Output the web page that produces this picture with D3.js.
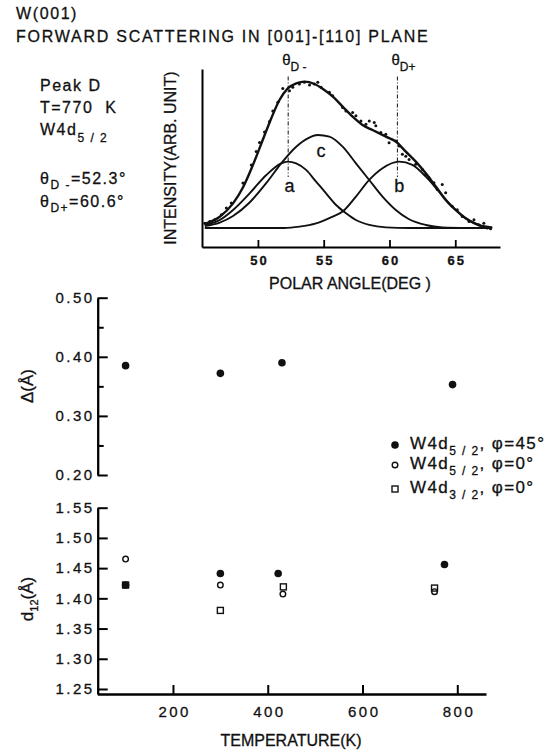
<!DOCTYPE html>
<html>
<head>
<meta charset="utf-8">
<title>W(001) forward scattering</title>
<style>
  body, html { margin: 0; padding: 0; background: #fff; }
  svg { display: block; font-family: "Liberation Sans", Arial, sans-serif; }
  text { fill: #111; stroke: #111; stroke-width: 0.3px; }
</style>
</head>
<body>
<svg id="svg" width="552" height="750"></svg>
<script src="https://d3js.org/d3.v7.min.js"></script>
<script>
  // ---- inset: polar scan, peak D, T=770 K, W4d5/2 ----
  const thetaMinus = 52.3
  const thetaPlus = 60.6
  const angleTicks = [50, 55, 60, 65]

  // measured points (angle, intensity arb.)
  const scanAngle = [45.96, 46.34, 46.71, 47.22, 47.60, 47.98, 48.86, 49.50, 49.87, 50.12, 50.50, 50.88, 51.13, 51.51, 51.89,
    52.40, 52.65, 53.15, 53.53, 53.92, 54.29, 54.55, 54.80, 55.43, 55.68, 56.44, 56.69, 57.20, 57.45, 57.83, 58.21, 58.46,
    58.84, 58.96, 59.34, 59.72, 59.97, 60.48, 60.73, 60.98, 61.24, 61.49, 61.99, 62.50, 62.75, 63.00, 63.38, 63.63, 64.01,
    64.27, 64.77, 65.15, 65.53, 66.04, 66.42, 66.79, 67.17, 67.43, 67.68]
  const scanIntensity = [0.032, 0.043, 0.054, 0.088, 0.133, 0.166, 0.30, 0.42, 0.51, 0.57, 0.64, 0.71, 0.78, 0.838, 0.93,
    0.915, 0.938, 0.96, 0.972, 0.954, 0.96, 0.972, 0.938, 0.905, 0.882, 0.804, 0.78, 0.77, 0.748, 0.714, 0.692, 0.714,
    0.703, 0.681, 0.636, 0.625, 0.569, 0.58, 0.546, 0.491, 0.479, 0.457, 0.424, 0.39, 0.356, 0.334, 0.301, 0.256, 0.289,
    0.234, 0.144, 0.122, 0.077, 0.043, 0.054, 0.021, 0.032, 0.0, -0.005]

  // fitted curves: [angle, intensity]
  const fitTotal = [[45.96, 0.027], [47.10, 0.075], [48.11, 0.164], [48.86, 0.27], [49.62, 0.42], [50.38, 0.59], [51.01, 0.73],
    [51.64, 0.853], [52.27, 0.931], [52.91, 0.964], [53.54, 0.976], [54.30, 0.96], [55.05, 0.92], [55.70, 0.876],
    [56.44, 0.809], [57.20, 0.742], [57.95, 0.687], [58.71, 0.653], [59.73, 0.609], [60.48, 0.576], [61.24, 0.509],
    [62.0, 0.442], [62.76, 0.364], [63.52, 0.276], [64.27, 0.187], [65.03, 0.12], [65.79, 0.064], [66.55, 0.027],
    [67.30, 0.004], [67.8, 0.0]]
  const fitA = [[45.96, 0.02], [47.10, 0.053], [48.11, 0.12], [49.37, 0.231], [50.64, 0.353], [51.77, 0.431], [52.27, 0.442],
    [52.91, 0.431], [53.66, 0.387], [54.42, 0.309], [55.18, 0.231], [55.94, 0.153], [56.70, 0.098], [57.45, 0.053],
    [58.46, 0.02], [59.73, 0.004], [61.5, 0.0], [67.8, 0.0]]
  const fitC = [[45.96, 0.013], [47.10, 0.036], [48.11, 0.08], [49.37, 0.17], [50.64, 0.30], [51.77, 0.431], [52.91, 0.542],
    [53.79, 0.598], [54.55, 0.62], [55.43, 0.609], [56.44, 0.542], [57.45, 0.431], [58.46, 0.32], [59.47, 0.209],
    [60.48, 0.12], [61.49, 0.058], [62.76, 0.02], [64.02, 0.004], [66.0, 0.0]]
  const fitB = [[45.96, 0.0], [52.0, 0.0], [53.16, 0.009], [54.42, 0.031], [55.68, 0.076], [56.44, 0.109], [57.45, 0.209],
    [58.46, 0.32], [59.47, 0.398], [60.73, 0.442], [61.74, 0.42], [62.76, 0.342], [63.77, 0.242], [64.78, 0.142],
    [65.79, 0.064], [66.80, 0.02], [67.81, 0.004]]

  // ---- main chart: temperature dependence ----
  const tempTicks = [200, 400, 600, 800]
  const deltaTicks = [0.20, 0.30, 0.40, 0.50]
  const deltaMinor = [0.25, 0.35, 0.45]
  const d12Ticks = [1.25, 1.30, 1.35, 1.40, 1.45, 1.50, 1.55]

  const tempDelta = [100, 300, 430, 790]
  const delta45 = [0.385, 0.372, 0.390, 0.353]

  const temp45 = [100, 300, 422, 773]
  const d12_52_45 = [1.422, 1.441, 1.441, 1.456]
  const temp52 = [100, 300, 432, 752]
  const d12_52_0 = [1.465, 1.422, 1.407, 1.411]
  const temp32 = [100, 300, 433, 752]
  const d12_32_0 = [1.422, 1.380, 1.419, 1.417]

  const svg = d3.select('#svg')
  svg.append('rect').attr('width', 552).attr('height', 750).attr('fill', '#fff')

  // axis look: thick black lines like the printed figure
  function styleAxis(g, lw, tw, fs, ls) {
    g.select('.domain').attr('stroke', '#000').attr('stroke-width', lw)
    g.selectAll('.tick line').attr('stroke', '#000').attr('stroke-width', tw)
    g.selectAll('.tick text').attr('font-size', fs).attr('letter-spacing', ls).attr('fill', '#111')
      .attr('font-family', '"Liberation Sans", Arial, sans-serif')
  }

  // ---- main chart axes first ----
  const X = d3.scaleLinear().domain([40.3, 860.6]).range([97.3, 486])
  const YD = d3.scaleLinear().domain([0.20, 0.50]).range([475, 297.7])
  const YL = d3.scaleLinear().domain([1.2417, 1.55]).range([694, 507.7])

  const gd = svg.append('g').attr('transform', 'translate(97.7,0)')
    .call(d3.axisLeft(YD).tickValues(deltaTicks).tickSizeInner(-10).tickSizeOuter(0).tickPadding(3)
      .tickFormat(d3.format('.2f')))
  styleAxis(gd, 2.3, 2, 15, 2.5)
  const gdm = svg.append('g').attr('transform', 'translate(97.7,0)')
    .call(d3.axisLeft(YD).tickValues(deltaMinor).tickSizeInner(-6).tickSizeOuter(0).tickFormat(''))
  gdm.select('.domain').remove()
  styleAxis(gdm, 2.3, 2, 15, 2.5)

  const gl = svg.append('g').attr('transform', 'translate(97.7,0)')
    .call(d3.axisLeft(YL).tickValues(d12Ticks).tickSizeInner(-10).tickSizeOuter(0).tickPadding(3)
      .tickFormat(d3.format('.2f')))
  styleAxis(gl, 2.3, 2, 15, 2.5)

  const gx = svg.append('g').attr('transform', 'translate(0,694)')
    .call(d3.axisBottom(X).tickValues(tempTicks).tickSizeInner(-9).tickSizeOuter(0))
  styleAxis(gx, 2.3, 2, 15, 2.5)
  gx.selectAll('.tick text').attr('y', 23).attr('dy', 0).attr('dx', 1.2)

  // ---- inset ----
  const xs = d3.scaleLinear().domain([45.75, 68.4]).range([202, 500])
  const ys = d3.scaleLinear().domain([-0.127, 1.06]).range([247, 69])

  const ix = svg.append('g').attr('transform', 'translate(0,247)')
    .call(d3.axisBottom(xs).tickValues(angleTicks).tickSizeInner(-7).tickSizeOuter(0).tickPadding(9))
  styleAxis(ix, 2, 1.8, 13, 2)
  ix.selectAll('.tick text').attr('font-weight', 'bold').attr('dx', 1)
  const iy = svg.append('g').attr('transform', 'translate(202,0)')
    .call(d3.axisLeft(ys).tickValues([]).tickSizeOuter(0))
  styleAxis(iy, 2, 1.8, 13, 0)

  const inset = svg.append('g')
  const line = d3.line().x(d => xs(d[0])).y(d => ys(d[1])).curve(d3.curveMonotoneX)
  ;[fitA, fitB, fitC].forEach(c => {
    inset.append('path').attr('d', line(c)).attr('fill', 'none').attr('stroke', '#111').attr('stroke-width', 1.9)
  })
  inset.append('path').attr('d', line(fitTotal)).attr('fill', 'none').attr('stroke', '#111').attr('stroke-width', 2.4)

  inset.selectAll('circle.scan').data(scanAngle).enter().append('circle').attr('class', 'scan')
    .attr('cx', d => xs(d)).attr('cy', (d, i) => ys(scanIntensity[i])).attr('r', 1.5).attr('fill', '#111')

  ;[thetaMinus, thetaPlus].forEach(t => {
    inset.append('line').attr('x1', xs(t)).attr('x2', xs(t)).attr('y1', ys(1.01)).attr('y2', ys(0.34))
      .attr('stroke', '#111').attr('stroke-width', 1).attr('stroke-dasharray', '4,2,1,2')
  })
  ;[[thetaMinus, 'D -'], [thetaPlus, 'D+']].forEach(([t, s]) => {
    const lab = inset.append('text').attr('x', xs(t) - 6).attr('y', 65).attr('font-size', 15)
    lab.append('tspan').text('θ')
    lab.append('tspan').attr('dy', 6).attr('font-size', 12).attr('xml:space', 'preserve').text(s)
  })
  ;[['a', thetaMinus + 0.1, 0.24], ['c', 54.8, 0.475], ['b', thetaPlus + 0.15, 0.24]].forEach(([n, a, v]) => {
    inset.append('text').attr('x', xs(a)).attr('y', ys(v)).attr('text-anchor', 'middle').attr('font-size', 18).text(n)
  })

  inset.append('text').attr('x', 350).attr('y', 289).attr('text-anchor', 'middle').attr('font-size', 16)
    .text('POLAR ANGLE(DEG )')
  inset.append('text').attr('transform', 'translate(176,158) rotate(-90)').attr('text-anchor', 'middle')
    .attr('font-size', 16).text('INTENSITY(ARB. UNIT)')

  // heading
  svg.append('text').attr('x', 16).attr('y', 19).attr('font-size', 16).attr('letter-spacing', 1.6).text('W(001)')
  svg.append('text').attr('x', 16).attr('y', 42).attr('font-size', 16).attr('letter-spacing', 1.75)
    .text('FORWARD SCATTERING IN [001]-[110] PLANE')

  // annotation block
  const note = svg.append('g').attr('font-size', 16).attr('letter-spacing', 1.5)
  note.append('text').attr('x', 40).attr('y', 91).text('Peak D')
  note.append('text').attr('x', 40).attr('y', 113).attr('xml:space', 'preserve').text('T=770  K')
  const w = note.append('text').attr('x', 40).attr('y', 135)
  w.append('tspan').text('W4d')
  w.append('tspan').attr('dy', 7).attr('font-size', 12).attr('xml:space', 'preserve').text('5 / 2')
  const tm = note.append('text').attr('x', 40).attr('y', 184)
  tm.append('tspan').text('θ')
  tm.append('tspan').attr('dy', 5).attr('font-size', 12).text('D -')
  tm.append('tspan').attr('dy', -5).text('=' + thetaMinus.toFixed(1) + '°')
  const tp = note.append('text').attr('x', 40).attr('y', 207)
  tp.append('tspan').text('θ')
  tp.append('tspan').attr('dy', 5).attr('font-size', 12).text('D+')
  tp.append('tspan').attr('dy', -5).text('=' + thetaPlus.toFixed(1) + '°')

  // axis titles
  svg.append('text').attr('x', 291).attr('y', 746).attr('text-anchor', 'middle').attr('font-size', 16)
    .text('TEMPERATURE(K)')
  svg.append('text').attr('transform', 'translate(33,386) rotate(-90)').attr('text-anchor', 'middle')
    .attr('font-size', 17).text('Δ(Å)')
  const dl = svg.append('text').attr('transform', 'translate(33,599) rotate(-90)').attr('text-anchor', 'middle')
    .attr('font-size', 17)
  dl.append('tspan').text('d')
  dl.append('tspan').attr('dy', 5).attr('font-size', 11).text('12')
  dl.append('tspan').attr('dy', -5).text('(Å)')

  // points
  svg.selectAll('circle.delta').data(tempDelta).enter().append('circle').attr('class', 'delta')
    .attr('cx', d => X(d)).attr('cy', (d, i) => YD(delta45[i])).attr('r', 3.8).attr('fill', '#111')
  svg.selectAll('rect.s32').data(temp32).enter().append('rect').attr('class', 's32')
    .attr('x', d => X(d) - 3).attr('y', (d, i) => YL(d12_32_0[i]) - 3).attr('width', 6).attr('height', 6)
    .attr('fill', 'none').attr('stroke', '#111').attr('stroke-width', 1.4)
  svg.selectAll('circle.f45').data(temp45).enter().append('circle').attr('class', 'f45')
    .attr('cx', d => X(d)).attr('cy', (d, i) => YL(d12_52_45[i])).attr('r', 3.8).attr('fill', '#111')
  svg.selectAll('circle.o52').data(temp52).enter().append('circle').attr('class', 'o52')
    .attr('cx', d => X(d)).attr('cy', (d, i) => YL(d12_52_0[i])).attr('r', 2.8)
    .attr('fill', 'none').attr('stroke', '#111').attr('stroke-width', 1.4)

  // legend
  const legend = svg.append('g').attr('font-size', 17).attr('letter-spacing', 1.4)
  const rows = [['5 / 2', '45°', 'filled'], ['5 / 2', '0°', 'open'], ['3 / 2', '0°', 'square']]
  const rowY = [445, 465, 489]
  rows.forEach(([sub, phi, kind], i) => {
    const y = rowY[i]
    if (kind === 'filled') legend.append('circle').attr('cx', 395).attr('cy', y).attr('r', 3.8).attr('fill', '#111')
    if (kind === 'open') legend.append('circle').attr('cx', 395).attr('cy', y).attr('r', 2.8)
      .attr('fill', 'none').attr('stroke', '#111').attr('stroke-width', 1.4)
    if (kind === 'square') legend.append('rect').attr('x', 392).attr('y', y - 3).attr('width', 6).attr('height', 6)
      .attr('fill', 'none').attr('stroke', '#111').attr('stroke-width', 1.4)
    const t = legend.append('text').attr('x', 410).attr('y', y + 4).attr('xml:space', 'preserve')
    t.append('tspan').text('W4d')
    t.append('tspan').attr('dy', 6).attr('font-size', 12).text(sub)
    t.append('tspan').attr('dy', -6).text(', φ=' + phi)
  })
</script>
</body>
</html>
